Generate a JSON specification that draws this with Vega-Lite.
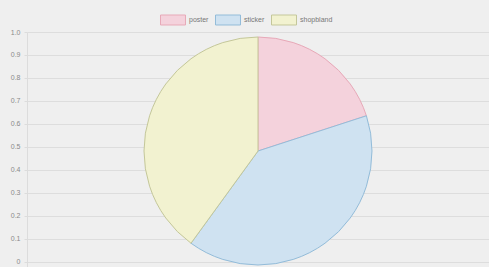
{
  "$schema": "https://vega.github.io/schema/vega-lite/v6.json",
  "width": 462,
  "height": 238,
  "autosize": "none",
  "padding": {"left": 27, "top": 32, "right": 0, "bottom": 0},
  "background": "#efefef",
  "config": {
    "view": {"stroke": null},
    "font": "Liberation Sans"
  },
  "data": {
    "values": [
      {"label": "poster", "value": 20, "idx": 1},
      {"label": "sticker", "value": 40, "idx": 2},
      {"label": "shopbland", "value": 40, "idx": 3}
    ]
  },
  "layer": [
    {
      "mark": {"type": "rule", "opacity": 0},
      "encoding": {
        "y": {
          "datum": 0,
          "type": "quantitative",
          "scale": {"domain": [-0.0348, 1], "nice": false, "zero": false},
          "axis": {
            "title": null,
            "values": [0, 0.1, 0.2, 0.3, 0.4, 0.5, 0.6, 0.7, 0.8, 0.9, 1.0],
            "labelExpr": "datum.value == 0 ? '0' : format(datum.value, '.1f')",
            "labelFontSize": 7,
            "labelColor": "#8a8a8a",
            "labelPadding": 4,
            "tickSize": 3,
            "tickColor": "#dcdcdc",
            "domainColor": "#dcdcdc",
            "gridColor": "#dddddd",
            "grid": true,
            "gridWidth": 1
          }
        }
      }
    },
    {
      "mark": {"type": "arc", "outerRadius": 114, "strokeWidth": 1},
      "encoding": {
        "theta": {"field": "value", "type": "quantitative", "stack": true},
        "order": {"field": "idx", "type": "quantitative"},
        "color": {
          "field": "label",
          "type": "nominal",
          "scale": {
            "domain": ["poster", "sticker", "shopbland"],
            "range": ["#f4d2dc", "#cfe2f1", "#f2f2d0"]
          },
          "legend": {
            "title": null,
            "orient": "none",
            "direction": "horizontal",
            "legendX": 139,
            "legendY": -19,
            "symbolType": "M-2,-0.8H2V0.8H-2Z",
            "symbolSize": 156,
            "symbolStrokeWidth": 1,
            "labelFontSize": 7,
            "labelColor": "#777777",
            "labelOffset": 9,
            "columnPadding": 4,
            "padding": 0
          }
        },
        "stroke": {
          "field": "label",
          "type": "nominal",
          "scale": {
            "domain": ["poster", "sticker", "shopbland"],
            "range": ["#e7a9b8", "#93bcd9", "#c4c79a"]
          },
          "legend": {
            "title": null,
            "orient": "none",
            "direction": "horizontal",
            "legendX": 139,
            "legendY": -19,
            "symbolType": "M-2,-0.8H2V0.8H-2Z",
            "symbolSize": 156,
            "symbolStrokeWidth": 1,
            "labelFontSize": 7,
            "labelColor": "#777777",
            "labelOffset": 9,
            "columnPadding": 4,
            "padding": 0
          }
        }
      }
    }
  ]
}
